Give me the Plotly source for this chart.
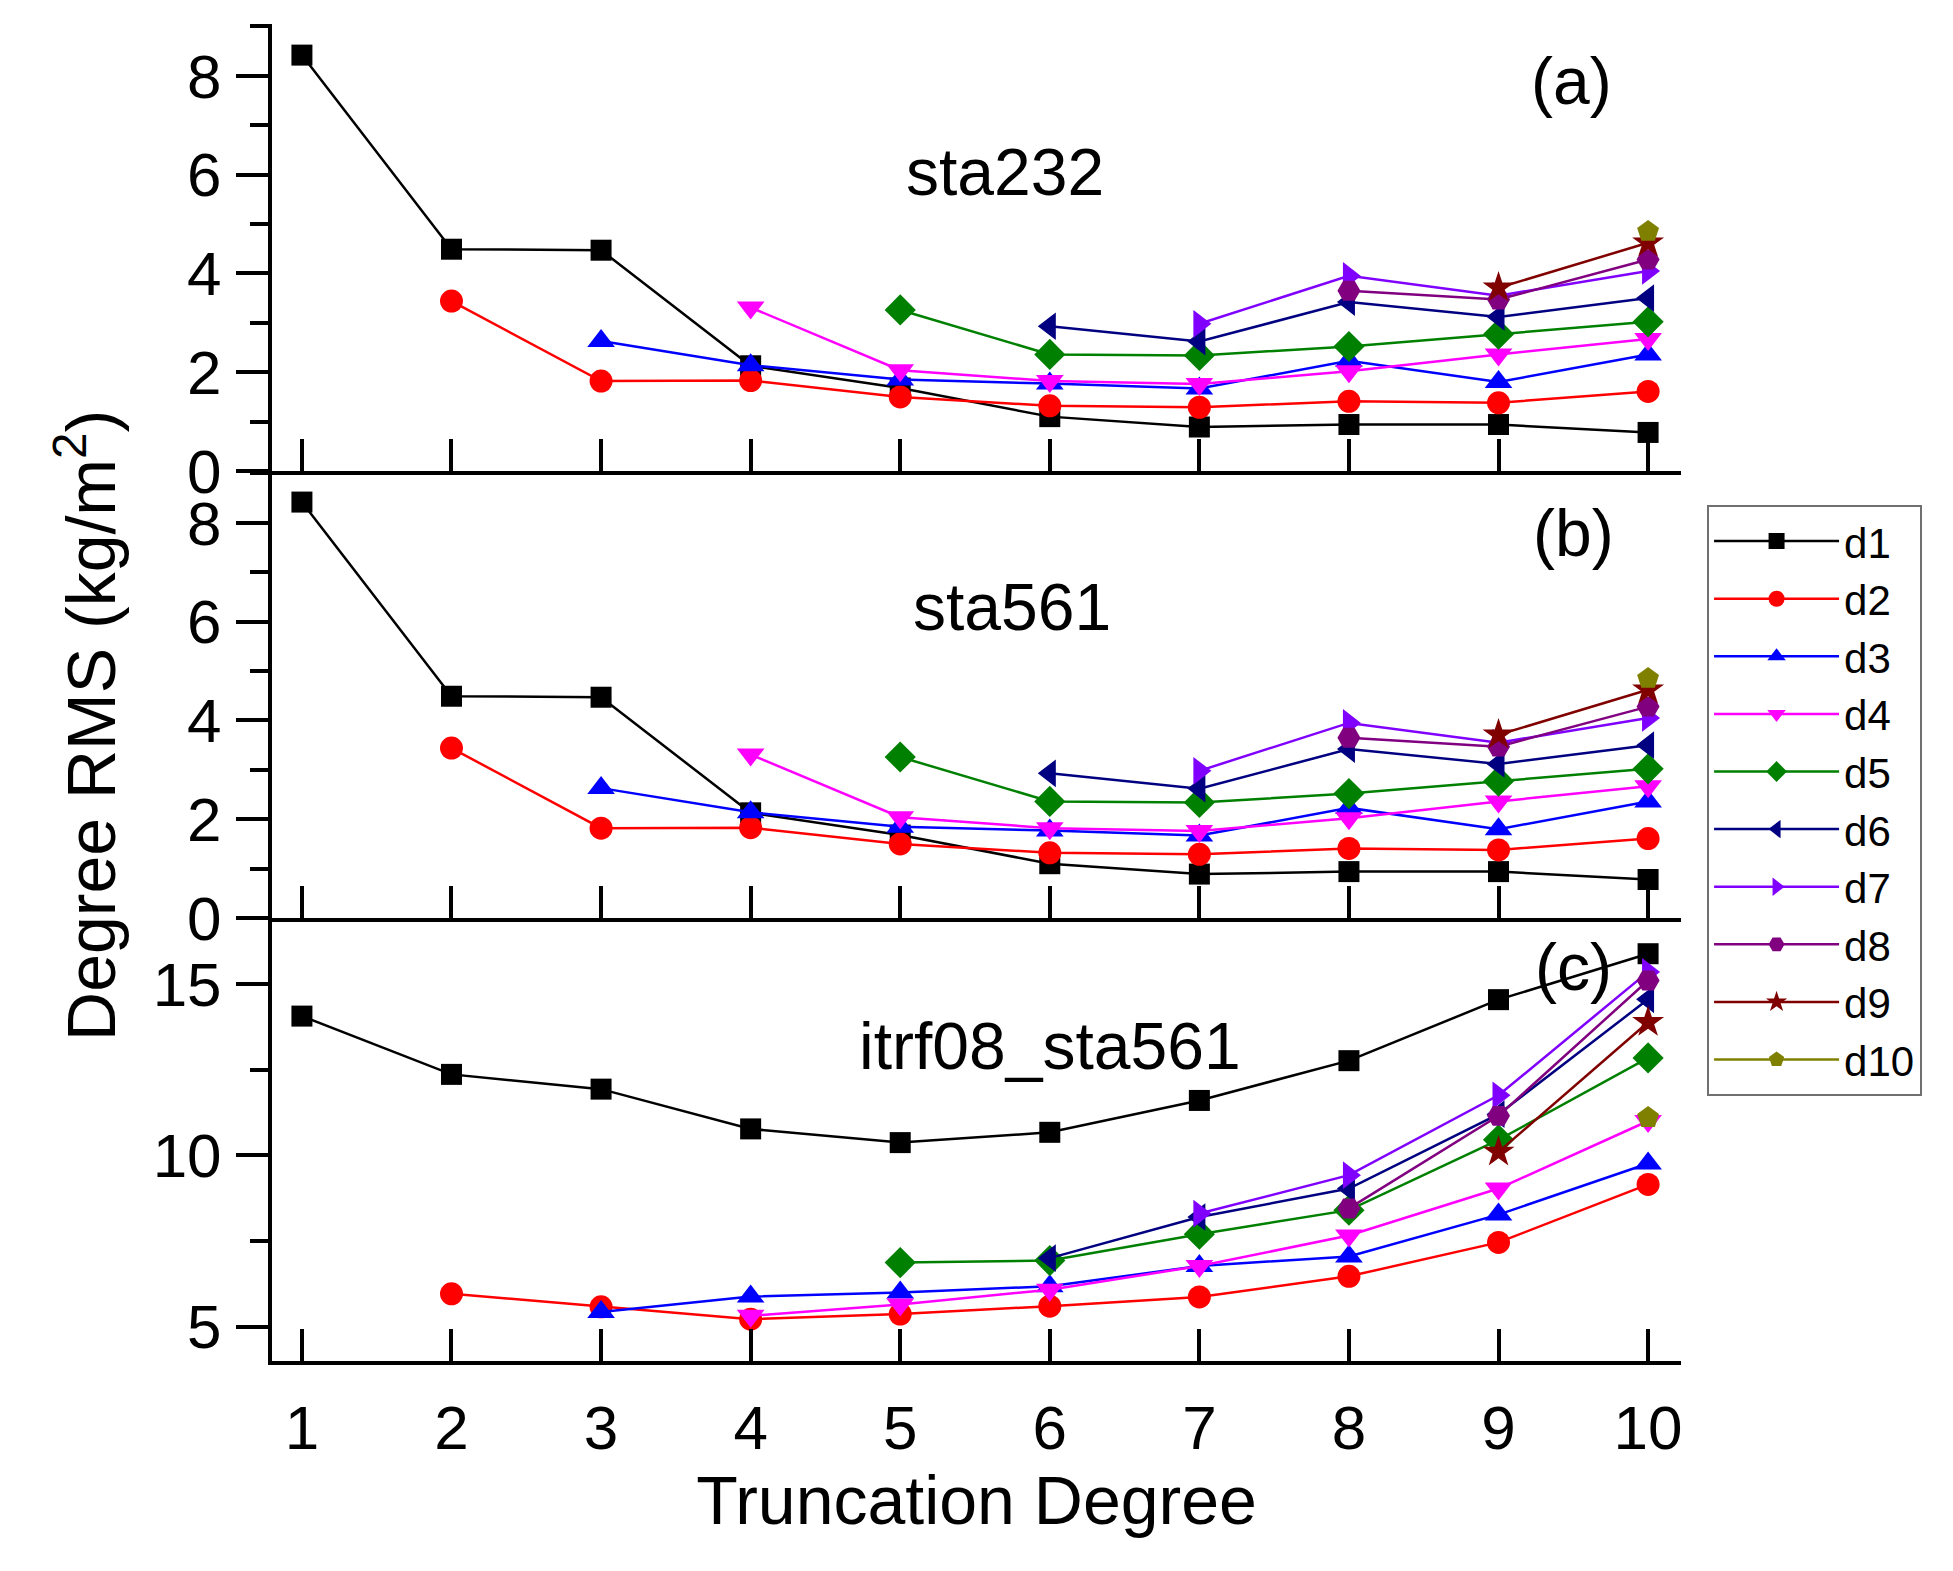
import plotly.graph_objects as go

degrees = [1, 2, 3, 4, 5, 6, 7, 8, 9, 10]
names = ['d1', 'd2', 'd3', 'd4', 'd5', 'd6', 'd7', 'd8', 'd9', 'd10']

# (a) sta232
sta232_d1 = [8.42, 4.49, 4.47, 2.13, 1.68, 1.10, 0.89, 0.94, 0.94, 0.78]
sta232_d2 = [None, 3.44, 1.82, 1.83, 1.50, 1.32, 1.29, 1.41, 1.38, 1.61]
sta232_d3 = [None, None, 2.63, 2.14, 1.85, 1.77, 1.67, 2.23, 1.80, 2.36]
sta232_d4 = [None, None, None, 3.31, 2.04, 1.82, 1.76, 2.02, 2.36, 2.67]
sta232_d5 = [None, None, None, None, 3.26, 2.36, 2.34, 2.52, 2.77, 3.02]
sta232_d6 = [None, None, None, None, None, 2.93, 2.62, 3.42, 3.12, 3.50]
sta232_d7 = [None, None, None, None, None, None, 2.98, 3.95, 3.55, 4.05]
sta232_d8 = [None, None, None, None, None, None, None, 3.65, 3.47, 4.28]
sta232_d9 = [None, None, None, None, None, None, None, None, 3.71, 4.62]
sta232_d10 = [None, None, None, None, None, None, None, None, None, 4.85]

# (b) sta561
sta561_d1 = [8.42, 4.49, 4.47, 2.13, 1.68, 1.10, 0.89, 0.94, 0.94, 0.78]
sta561_d2 = [None, 3.44, 1.82, 1.83, 1.50, 1.32, 1.29, 1.41, 1.38, 1.61]
sta561_d3 = [None, None, 2.63, 2.14, 1.85, 1.77, 1.67, 2.23, 1.80, 2.36]
sta561_d4 = [None, None, None, 3.31, 2.04, 1.82, 1.76, 2.02, 2.36, 2.67]
sta561_d5 = [None, None, None, None, 3.26, 2.36, 2.34, 2.52, 2.77, 3.02]
sta561_d6 = [None, None, None, None, None, 2.93, 2.62, 3.42, 3.12, 3.50]
sta561_d7 = [None, None, None, None, None, None, 2.98, 3.95, 3.55, 4.05]
sta561_d8 = [None, None, None, None, None, None, None, 3.65, 3.47, 4.28]
sta561_d9 = [None, None, None, None, None, None, None, None, 3.71, 4.62]
sta561_d10 = [None, None, None, None, None, None, None, None, None, 4.85]

# (c) itrf08_sta561
itrf_d1 = [14.06, 12.36, 11.93, 10.77, 10.37, 10.67, 11.60, 12.76, 14.54, 15.88]
itrf_d2 = [None, 5.96, 5.58, 5.22, 5.37, 5.60, 5.87, 6.47, 7.46, 9.15]
itrf_d3 = [None, None, 5.43, 5.88, 6.00, 6.18, 6.77, 7.05, 8.27, 9.76]
itrf_d4 = [None, None, None, 5.32, 5.65, 6.08, 6.77, 7.66, 9.03, 11.00]
itrf_d5 = [None, None, None, None, 6.87, 6.93, 7.70, 8.40, 10.45, 12.84]
itrf_d6 = [None, None, None, None, None, 7.00, 8.20, 9.03, 11.20, 14.55]
itrf_d7 = [None, None, None, None, None, None, 8.30, 9.42, 11.75, 15.35]
itrf_d8 = [None, None, None, None, None, None, None, 8.45, 11.15, 15.10]
itrf_d9 = [None, None, None, None, None, None, None, None, 10.10, 13.88]
itrf_d10 = [None, None, None, None, None, None, None, None, None, 11.10]

panel_a = [sta232_d1, sta232_d2, sta232_d3, sta232_d4, sta232_d5,
           sta232_d6, sta232_d7, sta232_d8, sta232_d9, sta232_d10]
panel_b = [sta561_d1, sta561_d2, sta561_d3, sta561_d4, sta561_d5,
           sta561_d6, sta561_d7, sta561_d8, sta561_d9, sta561_d10]
panel_c = [itrf_d1, itrf_d2, itrf_d3, itrf_d4, itrf_d5,
           itrf_d6, itrf_d7, itrf_d8, itrf_d9, itrf_d10]

colors = ['#000000', '#FF0000', '#0000FF', '#FF00FF', '#008000',
          '#000080', '#8000FF', '#800080', '#800000', '#808000']
symbols = ['square', 'circle', 'triangle-up', 'triangle-down', 'diamond',
           'triangle-left', 'triangle-right', 'hexagon2', 'star', 'pentagon']
sizes = [21, 23, 24, 24, 24, 24, 24, 23, 24, 23]

FONT = 'Liberation Sans, Arial, sans-serif'

fig = go.Figure()

for panel, (xa, ya) in zip([panel_a, panel_b, panel_c],
                           [('x', 'y'), ('x2', 'y2'), ('x3', 'y3')]):
  for i, vals in enumerate(panel):
    fig.add_trace(go.Scatter(
      x=degrees,
      y=vals,
      mode='lines+markers',
      name=names[i],
      line=dict(color=colors[i], width=2.5),
      marker=dict(symbol=symbols[i], size=sizes[i], color=colors[i]),
      showlegend=(xa == 'x'),
      xaxis=xa,
      yaxis=ya
    ))

xcommon = dict(
  range=[0.8, 10.22],
  tickmode='linear', tick0=1, dtick=1,
  ticks='inside', ticklen=32, tickwidth=4, tickcolor='black',
  showline=True, linewidth=4, linecolor='black',
  showgrid=False, zeroline=False,
  tickfont=dict(family=FONT, size=62, color='black'),
)

ycommon = dict(
  ticks='outside', ticklen=32, tickwidth=4, tickcolor='black',
  showline=True, linewidth=4, linecolor='black',
  showgrid=False, zeroline=False,
  tickfont=dict(family=FONT, size=62, color='black'),
  ticklabelstandoff=2,
)

fig.update_layout(
  width=1953,
  height=1571,
  margin=dict(l=272, r=272, t=24, b=210),
  paper_bgcolor='white',
  plot_bgcolor='white',
  font=dict(family=FONT, color='black'),
  xaxis=dict(xcommon, anchor='y', showticklabels=False),
  xaxis2=dict(xcommon, anchor='y2', showticklabels=False),
  xaxis3=dict(xcommon, anchor='y3', showticklabels=True, ticklabelstandoff=10,
              title=dict(text='Truncation Degree', standoff=15,
                         font=dict(family=FONT, size=68, color='black'))),
  yaxis=dict(ycommon, domain=[0.6657, 1.0], anchor='x', range=[0, 9.05],
             tickmode='linear', tick0=0, dtick=2,
             minor=dict(ticks='outside', ticklen=18, tickwidth=4, dtick=1, tickcolor='black')),
  yaxis2=dict(ycommon, domain=[0.3313, 0.6657], anchor='x2', range=[0, 9.05],
              tickmode='linear', tick0=0, dtick=2,
              minor=dict(ticks='outside', ticklen=18, tickwidth=4, dtick=1, tickcolor='black')),
  yaxis3=dict(ycommon, domain=[0.0, 0.3313], anchor='x3', range=[4, 16.92],
              tickmode='linear', tick0=0, dtick=5,
              minor=dict(ticks='outside', ticklen=18, tickwidth=4, dtick=2.5, tickcolor='black')),
  legend=dict(
    x=1.0185, y=0.640, xanchor='left', yanchor='top',
    bordercolor='#707070', borderwidth=2,
    font=dict(family=FONT, size=42, color='black'),
    itemwidth=125,
    bgcolor='white'
  ),
  showlegend=True
)

label_font = dict(family=FONT, size=66, color='black')
fig.add_annotation(text='(a)', x=9.49, y=7.9, xref='x', yref='y', showarrow=False, font=label_font)
fig.add_annotation(text='(b)', x=9.5, y=7.8, xref='x2', yref='y2', showarrow=False, font=label_font)
fig.add_annotation(text='(c)', x=9.5, y=15.5, xref='x3', yref='y3', showarrow=False, font=label_font)
fig.add_annotation(text='sta232', x=5.7, y=6.05, xref='x', yref='y', showarrow=False, font=label_font)
fig.add_annotation(text='sta561', x=5.75, y=6.3, xref='x2', yref='y2', showarrow=False, font=label_font)
fig.add_annotation(text='itrf08_sta561', x=6.0, y=13.2, xref='x3', yref='y3', showarrow=False, font=label_font)

fig.add_annotation(
  text='Degree RMS (kg/m<sup>2</sup>)',
  x=-0.132, y=0.475, xref='paper', yref='paper',
  xanchor='center', yanchor='middle',
  textangle=-90, showarrow=False,
  font=dict(family=FONT, size=68, color='black')
)

fig.write_html("out.html", config={'displayModeBar': False},
               post_script="document.body.style.margin='0';")
